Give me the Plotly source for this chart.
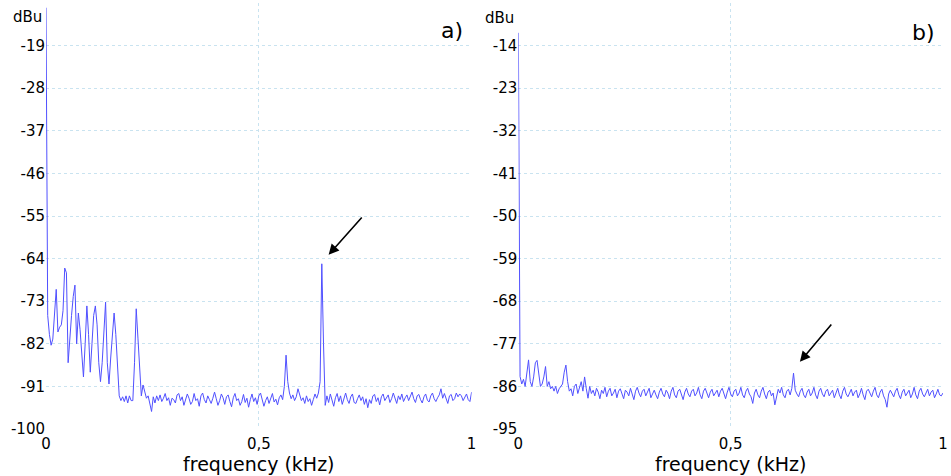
import numpy as np
import plotly.graph_objects as go

# frequency grid (kHz), 0.004 kHz spacing
freq = np.round(np.arange(251) * 0.004, 3)

# panel a) spectrum (dBu)
level_a = [
    -11, -76, -80, -82.3, -81, -76, -70.5, -79.5, -78.5, -78,
    -75, -66, -67, -86, -80, -76, -72, -69.6, -82, -75.5,
    -79, -85, -89, -82, -74, -80, -88, -82, -76, -74,
    -78, -86, -90, -86, -80, -73.2, -86, -90.5, -85, -79,
    -75.5, -80, -87, -93, -94, -93.2, -94.2, -93, -94.5, -93,
    -94, -94, -86, -74.6, -80.8, -88, -93, -90.7, -92, -93.5,
    -93, -94.5, -96.3, -93.2, -94.5, -93, -94, -92.8, -94.2, -93.5,
    -92.5, -94, -93.4, -95, -93.5, -93.8, -94.5, -92.8, -92.5, -94,
    -93.2, -95, -93.8, -92.6, -93.5, -94.8, -94.2, -92.5, -94, -93.6,
    -95.2, -93, -92.4, -93.8, -94.5, -93, -93.8, -94.6, -93.5, -92.2,
    -93.6, -95, -94, -92.6, -93.4, -94.8, -93.2, -92.8, -94.2, -95.3,
    -93.4, -92.5, -94, -93.6, -95, -94.2, -92.7, -94.4, -93.5, -95.4,
    -93.8, -92.6, -94.2, -93.4, -94.8, -93, -92.4, -93.9, -95.2, -94,
    -93.2, -94.6, -93.6, -92.5, -94.3, -93.7, -94.9, -93.4, -92.8, -93.8,
    -91, -84.4, -90, -92.4, -93.6, -92.8, -94, -93.2, -91.5, -93,
    -94, -93.4, -94.6, -93, -94.2, -93.6, -95, -93.8, -92.6, -93.5,
    -92.4, -90, -65.1, -82, -95, -93, -94.4, -92.6, -94, -95.2,
    -93.4, -92.5, -94.2, -93, -94.8, -93.6, -92.4, -93.8, -94.6, -93.2,
    -92.6, -94.4, -94.6, -93.6, -92.8, -94, -93.2, -94.8, -93.6, -95.5,
    -93.8, -94.6, -93, -92.7, -94.2, -93.4, -94.9, -93.2, -92.6, -94,
    -93.5, -92.8, -94.4, -93.6, -92.4, -93.8, -94.6, -93, -93.8, -92.6,
    -94.2, -93.4, -92.8, -94, -93.2, -92.2, -93.6, -94.4, -93, -92.7,
    -93.8, -94.5, -93.2, -92.6, -93.9, -94.3, -93, -92.4, -93.6, -94.2,
    -93.4, -92.8, -91.5, -93.5, -92.5, -93.8, -94.6, -93, -92.7, -94,
    -93.6, -92.4, -93.2, -92.6, -93, -94, -93.4, -92.6, -93.8, -94.2,
    -92.2,
]

# panel b) spectrum (dBu)
level_b = [
    -11.3, -83.9, -85.5, -84.5, -86, -83, -80.4, -85, -86, -84,
    -81, -80.5, -83, -86, -85.5, -84, -81.8, -86, -85, -86.5,
    -86, -87, -86, -87.5, -86.5, -86, -85.5, -83, -81.5, -85,
    -87, -86.5, -88, -86, -85.5, -87.5, -86, -85, -87, -84,
    -86.5, -88.5, -86, -87.5, -86.8, -88, -86.4, -87.2, -88.6, -86.8,
    -87.5, -86.2, -88.2, -87, -86.4, -88, -87.4, -86.6, -88.4, -87,
    -86.5, -87.8, -88.6, -86.8, -87.2, -88, -86.4, -87.6, -88.8, -87,
    -86.2, -87.4, -88.2, -87, -86.6, -88, -87.2, -86.4, -88.4, -87.6,
    -86.8, -87.8, -88.6, -87.2, -86.4, -87.6, -88.2, -86.8, -87.4, -88.6,
    -87, -86.2, -87.8, -88.4, -87, -86.6, -87.8, -88.8, -87.2, -86.4,
    -87.6, -88.2, -87, -86.6, -88, -87.4, -86.2, -87.8, -88.6, -87,
    -86.4, -87.6, -88.4, -87.2, -86.6, -88, -87.4, -86.8, -88.2, -87,
    -86.4, -87.8, -88.6, -87.2, -86.2, -87.6, -88.2, -87, -86.6, -88,
    -87.4, -86.2, -87.8, -88.4, -87, -86.4, -87.6, -88.2, -89.6, -87.4,
    -86.6, -87.8, -88.4, -87, -86.2, -87.6, -88.6, -87.2, -86.8, -88,
    -87.4, -89.9, -88, -86.6, -87.4, -86.2, -87.8, -88.4, -87, -86.6,
    -87.8, -86.4, -83.2, -86.8, -87.6, -88.2, -87, -86.4, -87.8, -88.4,
    -87.2, -86.6, -88, -87.4, -86.2, -87.8, -88.6, -87, -86.4, -87.6,
    -88.2, -87, -86.6, -88, -87.4, -86.8, -88.4, -87.2, -86.4, -87.8,
    -88.6, -87, -86.2, -87.6, -88.2, -87.4, -86.6, -88, -87.2, -86.8,
    -88.4, -87.6, -86.4, -87.8, -88.8, -87, -86.6, -87.4, -88.2, -87,
    -86.2, -87.8, -88.4, -87.2, -86.6, -88, -88.8, -90.4, -87.6, -86.8,
    -87.4, -88.2, -87, -86.4, -87.8, -88.6, -87.2, -86.6, -88, -87.4,
    -86.8, -88.4, -87.6, -86.2, -87.8, -88.6, -87, -86.4, -87.6, -88.2,
    -87.4, -86.6, -88, -87.2, -86.8, -88.4, -87.6, -86.6, -87.8, -88,
    -87.4,
]

x_tickvals = [0, 0.5, 1]
x_ticktext = ["0", "0,5", "1"]
ytick_a = [-100, -91, -82, -73, -64, -55, -46, -37, -28, -19]
ytick_b = [-95, -86, -77, -68, -59, -50, -41, -32, -23, -14]

LINE = "rgb(80,80,255)"
GRID = "#c9e3f0"
FONT = "DejaVu Sans"

fig = go.Figure()
fig.add_trace(go.Scatter(x=freq, y=level_a, mode="lines",
                         line=dict(color=LINE, width=1), xaxis="x", yaxis="y",
                         showlegend=False))
fig.add_trace(go.Scatter(x=freq, y=level_b, mode="lines",
                         line=dict(color=LINE, width=1), xaxis="x2", yaxis="y2",
                         showlegend=False))

def xax(domain, anchor):
    return dict(domain=domain, anchor=anchor, range=[0, 1],
                tickmode="array", tickvals=x_tickvals, ticktext=x_ticktext,
                showgrid=False, zeroline=False, showline=False, ticks="",
                ticklabelstandoff=4,
                tickfont=dict(size=15, color="black"),
                minor=dict(tickmode="array", tickvals=[0.5, 1], showgrid=True,
                           gridcolor=GRID, griddash="dot", gridwidth=1, ticks=""),
                title=dict(text="frequency (kHz)", font=dict(size=19, color="black"),
                           standoff=0))

def yax(rng, ticks, anchor):
    return dict(anchor=anchor, range=rng, tickmode="array", tickvals=ticks,
                ticktext=[str(t) for t in ticks],
                showgrid=True, gridcolor=GRID, griddash="dot", gridwidth=1,
                zeroline=False, showline=False, ticks="",
                tickfont=dict(size=15, color="black"))

fig.update_layout(
    width=951, height=476,
    margin=dict(l=46, r=3, t=3, b=47),
    paper_bgcolor="white", plot_bgcolor="white",
    font=dict(family=FONT, color="black"),
    xaxis=xax([0, 0.4745], "y"),
    yaxis=yax([-100, -10], ytick_a, "x"),
    xaxis2=xax([0.5266, 1.0], "y2"),
    yaxis2=yax([-95, -5], ytick_b, "x2"),
)

annots = [
    dict(text="dBu", xref="x domain", yref="paper", x=-0.005, y=0.966,
         xanchor="right", yanchor="middle", showarrow=False, font=dict(size=15)),
    dict(text="dBu", xref="x2 domain", yref="paper", x=-0.005, y=0.964,
         xanchor="right", yanchor="middle", showarrow=False, font=dict(size=15)),
    dict(text="a)", xref="x domain", yref="paper", x=0.985, y=0.935,
         xanchor="right", yanchor="middle", showarrow=False, font=dict(size=22)),
    dict(text="b)", xref="x2 domain", yref="paper", x=0.985, y=0.93,
         xanchor="right", yanchor="middle", showarrow=False, font=dict(size=22)),
    dict(x=0.664, y=-63.2, xref="x", yref="y", ax=0.745, ay=-55, axref="x", ayref="y",
         text="", showarrow=True, arrowhead=2, arrowsize=1.3, arrowwidth=1.6,
         arrowcolor="black"),
    dict(x=0.663, y=-80.8, xref="x2", yref="y2", ax=0.74, ay=-72.6, axref="x2", ayref="y2",
         text="", showarrow=True, arrowhead=2, arrowsize=1.3, arrowwidth=1.6,
         arrowcolor="black"),
]
fig.update_layout(annotations=annots)

fig.write_html("out.html")
